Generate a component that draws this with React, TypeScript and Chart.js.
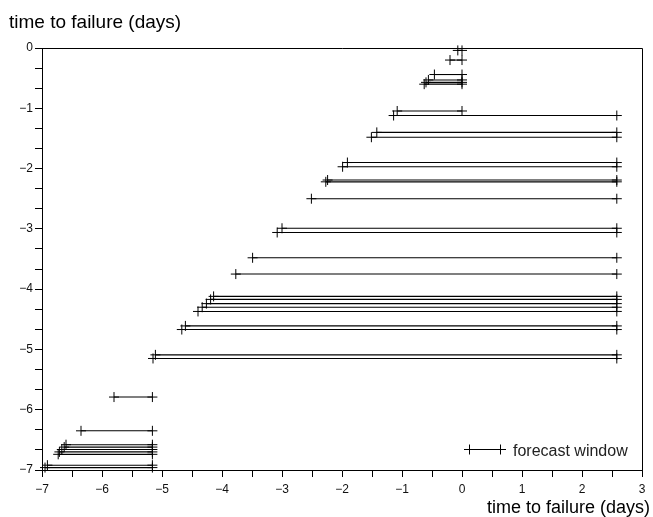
import React, { useEffect, useRef } from "react";
import { Chart, registerables } from "chart.js";

Chart.register(...registerables);

// ---- data ----
const SEG_Y = [
  -0.04, -0.2, -0.44, -0.53, -0.57, -0.6, -1.045,
  -1.12, -1.4, -1.48, -1.9, -1.97, -2.19, -2.22, -2.5,
  -2.99, -3.06, -3.48, -3.75, -4.12, -4.17, -4.24, -4.3, -4.37,
  -4.61, -4.67, -5.09, -5.15,
  -5.79, -6.35, -6.58, -6.62, -6.66, -6.7, -6.74, -6.92, -6.96,
];
const SEG_START = [
  -0.07, -0.2, -0.46, -0.56, -0.6, -0.63, -1.08,
  -1.14, -1.42, -1.51, -1.91, -1.99, -2.24, -2.27, -2.51,
  -3.0, -3.08, -3.49, -3.77, -4.14, -4.19, -4.26, -4.33, -4.4,
  -4.61, -4.67, -5.11, -5.15,
  -5.8, -6.35, -6.6, -6.63, -6.67, -6.71, -6.73, -6.91, -6.95,
];
const SEG_END = [
  0, 0, 0, 0, 0, 0, 0,
  2.58, 2.58, 2.58, 2.58, 2.58, 2.58, 2.58, 2.58,
  2.58, 2.58, 2.58, 2.58, 2.58, 2.58, 2.58, 2.58, 2.58,
  2.58, 2.58, 2.58, 2.58,
  -5.16, -5.16, -5.16, -5.16, -5.16, -5.16, -5.16, -5.16, -5.16,
];
const X_MIN = -7;
const X_MAX = 3;
const X_MINOR_PER_UNIT = 2;
const Y_MIN = -7;
const Y_MAX = 0;
const Y_MINOR_PER_UNIT = 3;
const X_TITLE = "time to failure (days)";
const Y_TITLE = "time to failure (days)";
const LEGEND_LABEL = "forecast window";

const FONT = '"Liberation Sans", Arial, Helvetica, sans-serif';

function makeTicks(min: number, max: number, per: number) {
  const out: { value: number }[] = [];
  const n = Math.round((max - min) * per);
  for (let i = 0; i <= n; i++) out.push({ value: min + i / per });
  return out;
}

function fmt(v: number) {
  const r = Math.round(v);
  if (Math.abs(v - r) > 1e-6) return "";
  return r < 0 ? "\u2212" + Math.abs(r) : String(r);
}

const decorPlugin = {
  id: "decor",
  afterDraw(chart: any) {
    const ctx = chart.ctx;
    const { left, right, top, bottom } = chart.chartArea;
    ctx.save();
    ctx.strokeStyle = "#000";
    ctx.lineWidth = 1;
    ctx.beginPath();
    ctx.moveTo(left, top + 0.5);
    ctx.lineTo(right + 0.5, top + 0.5);
    ctx.lineTo(right + 0.5, bottom);
    ctx.stroke();

    ctx.fillStyle = "#000";
    ctx.font = "19px " + FONT;
    ctx.textBaseline = "alphabetic";
    ctx.textAlign = "left";
    ctx.fillText(Y_TITLE, 9, 28);
    ctx.font = "18px " + FONT;
    ctx.textAlign = "right";
    ctx.fillText(X_TITLE, 650, 513);

    // legend
    const ly = 449.5;
    ctx.beginPath();
    ctx.moveTo(464, ly);
    ctx.lineTo(506, ly);
    ctx.moveTo(469.5, ly - 5);
    ctx.lineTo(469.5, ly + 5);
    ctx.moveTo(500.5, ly - 5);
    ctx.lineTo(500.5, ly + 5);
    ctx.stroke();
    ctx.font = "16px " + FONT;
    ctx.textAlign = "left";
    ctx.fillStyle = "#222";
    ctx.fillText(LEGEND_LABEL, 513, 456);
    ctx.restore();
  },
};

export default function App() {
  const ref = useRef<HTMLCanvasElement>(null);
  useEffect(() => {
    if (!ref.current) return;
    const datasets = SEG_Y.map((y, i) => ({
      data: [
        { x: SEG_START[i], y },
        { x: SEG_END[i], y },
      ],
      showLine: true,
      borderColor: "#000",
      borderWidth: 1.1,
      pointStyle: "cross",
      pointRadius: 5,
      pointBorderColor: "#000",
      pointBorderWidth: 1,
      pointHoverRadius: 5,
      clip: false,
    }));
    const chart = new Chart(ref.current, {
      type: "scatter",
      data: { datasets } as any,
      options: {
        animation: false,
        responsive: false,
        devicePixelRatio: 1,
        layout: { padding: { left: 0, top: 48, right: 11, bottom: 0 } },
        plugins: { legend: { display: false }, tooltip: { enabled: false } },
        scales: {
          x: {
            type: "linear",
            min: X_MIN,
            max: X_MAX,
            afterBuildTicks: (axis: any) => {
              axis.ticks = makeTicks(X_MIN, X_MAX, X_MINOR_PER_UNIT);
            },
            afterFit: (axis: any) => {
              axis.height = 47;
            },
            grid: { drawOnChartArea: false, tickLength: 7, color: "#000" },
            border: { display: true, color: "#000", width: 1 },
            ticks: {
              autoSkip: false,
              maxRotation: 0,
              padding: 5,
              color: "#111",
              font: { family: FONT, size: 12 },
              callback: (v: any) => fmt(Number(v)),
            },
          },
          y: {
            type: "linear",
            min: Y_MIN,
            max: Y_MAX,
            afterBuildTicks: (axis: any) => {
              axis.ticks = makeTicks(Y_MIN, Y_MAX, Y_MINOR_PER_UNIT);
            },
            afterFit: (axis: any) => {
              axis.width = 42;
            },
            grid: { drawOnChartArea: false, tickLength: 7, color: "#000" },
            border: { display: true, color: "#000", width: 1 },
            ticks: {
              autoSkip: false,
              padding: 2,
              color: "#111",
              font: { family: FONT, size: 12 },
              callback: (v: any) => fmt(Number(v)),
            },
          },
        },
      },
      plugins: [decorPlugin],
    } as any);
    return () => chart.destroy();
  }, []);
  return (
    <div style={{ position: "fixed", left: 0, top: 0, width: 653, height: 517, background: "#fff" }}>
      <canvas ref={ref} width={653} height={517} style={{ display: "block" }} />
    </div>
  );
}
